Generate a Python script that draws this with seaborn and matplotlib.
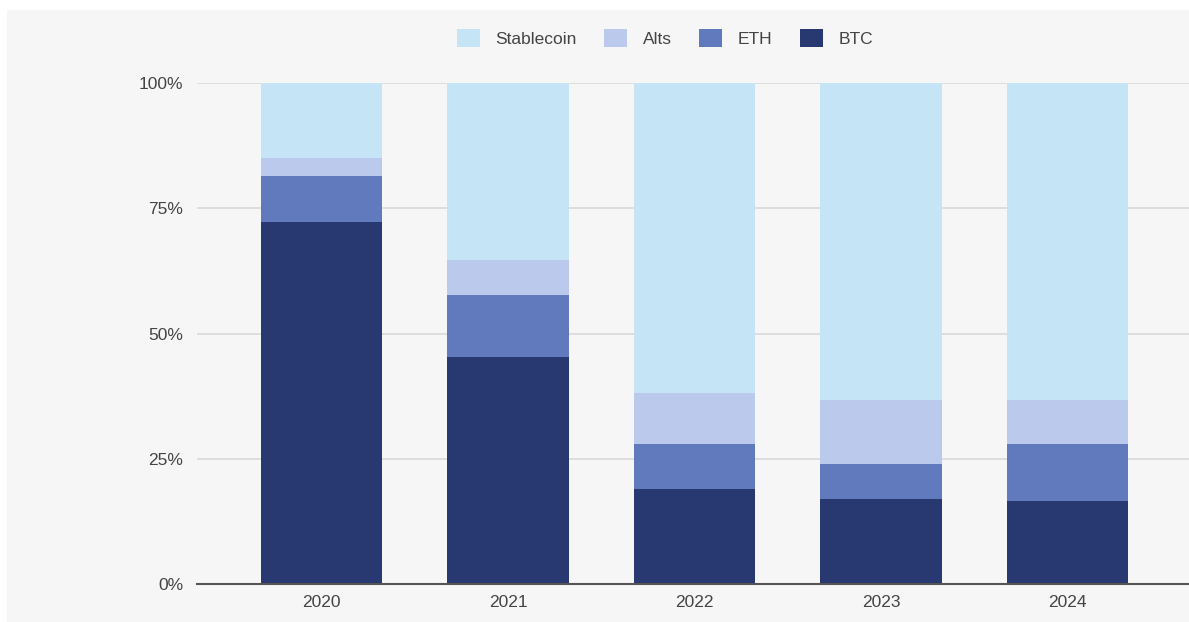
import matplotlib
matplotlib.use("Agg")
import matplotlib.pyplot as plt
import seaborn as sns
import pandas as pd
from matplotlib.patches import Rectangle, Patch
from matplotlib.ticker import FuncFormatter

# values, in percent of the total
years = ["2020", "2021", "2022", "2023", "2024"]
btc = [72.3, 45.3, 19.0, 17.0, 16.6]
eth = [9.1, 12.4, 8.9, 7.0, 11.3]
alts = [3.6, 7.0, 10.2, 12.7, 8.8]
stablecoin = [15.0, 35.3, 61.9, 63.3, 63.3]

series = ["Stablecoin", "Alts", "ETH", "BTC"]
colors = {"Stablecoin": "#c5e5f6", "Alts": "#bbc9ed", "ETH": "#6179bd", "BTC": "#283870"}

df = pd.DataFrame({"year": years, "BTC": btc, "ETH": eth, "Alts": alts, "Stablecoin": stablecoin})
# cumulative tops, drawn from the tallest down so each layer covers the one below
df["top_BTC"] = df["BTC"]
df["top_ETH"] = df["top_BTC"] + df["ETH"]
df["top_Alts"] = df["top_ETH"] + df["Alts"]
df["top_Stablecoin"] = df["top_Alts"] + df["Stablecoin"]

sns.set_style("white")
plt.rcParams["font.family"] = ["Liberation Sans", "DejaVu Sans"]

fig = plt.figure(figsize=(11.89, 6.22), dpi=100, facecolor="white")
fig.patches.append(Rectangle((7 / 1189, 0), 1, (622 - 10) / 622, transform=fig.transFigure,
                             facecolor="#f6f6f6", edgecolor="none", zorder=-10))
ax = fig.add_axes([197 / 1189, 1 - 584 / 622, 1 - 197 / 1189, (584 - 83) / 622])
ax.set_facecolor("#f6f6f6")

for name in series:
    sns.barplot(data=df, x="year", y="top_" + name, color=colors[name], width=0.65,
                saturation=1, linewidth=0, edgecolor="none", ax=ax, zorder=3)

ax.set_ylim(0, 100)
ax.set_xlim(-0.668, 4.651)
ax.set_yticks([0, 25, 50, 75, 100])
ax.yaxis.set_major_formatter(FuncFormatter(lambda v, p: f"{v:.0f}%"))
ax.grid(axis="y", color="#d8d8d8", linewidth=1.2, zorder=0)
ax.set_axisbelow(True)
for s in ["top", "right", "left"]:
    ax.spines[s].set_visible(False)
ax.spines["bottom"].set_color("#555555")
ax.spines["bottom"].set_linewidth(1.5)
ax.spines["bottom"].set_zorder(4)
ax.tick_params(axis="both", length=0, labelsize=12.5, labelcolor="#444444")
ax.tick_params(axis="y", pad=10)
ax.tick_params(axis="x", pad=8)
ax.set_xlabel("")
ax.set_ylabel("")

handles = [Patch(facecolor=colors[n], edgecolor="none") for n in series]
fig.legend(handles, series, loc="center", bbox_to_anchor=(665 / 1189, 1 - 38 / 622), ncol=4,
           frameon=False, fontsize=12.5, handlelength=1.3, handleheight=1.3,
           columnspacing=1.6, handletextpad=0.9, labelcolor="#444444")

fig.savefig("out.png", dpi=100, facecolor=fig.get_facecolor())
